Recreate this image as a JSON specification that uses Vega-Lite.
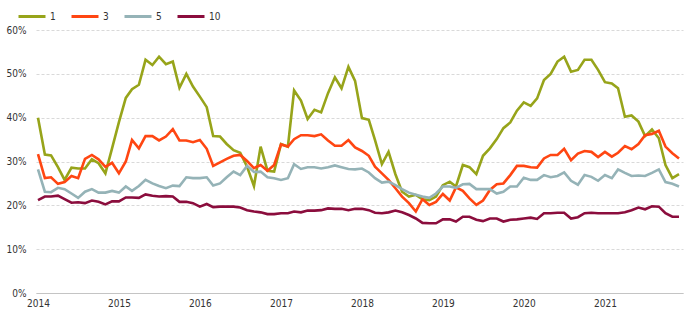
{
"$schema": "https://vega.github.io/schema/vega-lite/v6.json",
"width": 647, "height": 263,
"autosize": {"type": "none"},
"padding": {"left": 36, "top": 30, "right": 7, "bottom": 28},
"background": "white",
"config": {"view": {"stroke": null}, "font": "Liberation Sans Narrow, Arial Narrow, DejaVu Sans Condensed, sans-serif"},
"data": {"values": [
{"d":"2014-01","s":"1","v":40},{"d":"2014-02","s":"1","v":31.6},{"d":"2014-03","s":"1","v":31.4},{"d":"2014-04","s":"1","v":28.7},{"d":"2014-05","s":"1","v":25.8},{"d":"2014-06","s":"1","v":28.6},{"d":"2014-07","s":"1","v":28.4},{"d":"2014-08","s":"1","v":28.4},{"d":"2014-09","s":"1","v":30.5},{"d":"2014-10","s":"1","v":29.6},{"d":"2014-11","s":"1","v":27.3},{"d":"2014-12","s":"1","v":33},
{"d":"2015-01","s":"1","v":39},{"d":"2015-02","s":"1","v":44.5},{"d":"2015-03","s":"1","v":46.5},{"d":"2015-04","s":"1","v":47.5},{"d":"2015-05","s":"1","v":53.2},{"d":"2015-06","s":"1","v":52},{"d":"2015-07","s":"1","v":53.9},{"d":"2015-08","s":"1","v":52.2},{"d":"2015-09","s":"1","v":52.8},{"d":"2015-10","s":"1","v":46.8},{"d":"2015-11","s":"1","v":50},{"d":"2015-12","s":"1","v":47.1},
{"d":"2016-01","s":"1","v":44.8},{"d":"2016-02","s":"1","v":42.4},{"d":"2016-03","s":"1","v":35.8},{"d":"2016-04","s":"1","v":35.7},{"d":"2016-05","s":"1","v":34},{"d":"2016-06","s":"1","v":32.6},{"d":"2016-07","s":"1","v":32},{"d":"2016-08","s":"1","v":28.8},{"d":"2016-09","s":"1","v":24.4},{"d":"2016-10","s":"1","v":33.4},{"d":"2016-11","s":"1","v":27.9},{"d":"2016-12","s":"1","v":27.7},
{"d":"2017-01","s":"1","v":34},{"d":"2017-02","s":"1","v":33.4},{"d":"2017-03","s":"1","v":46.2},{"d":"2017-04","s":"1","v":43.9},{"d":"2017-05","s":"1","v":39.7},{"d":"2017-06","s":"1","v":41.8},{"d":"2017-07","s":"1","v":41.2},{"d":"2017-08","s":"1","v":45.6},{"d":"2017-09","s":"1","v":49.2},{"d":"2017-10","s":"1","v":46.7},{"d":"2017-11","s":"1","v":51.6},{"d":"2017-12","s":"1","v":48.4},
{"d":"2018-01","s":"1","v":39.9},{"d":"2018-02","s":"1","v":39.5},{"d":"2018-03","s":"1","v":34.9},{"d":"2018-04","s":"1","v":29.4},{"d":"2018-05","s":"1","v":32.2},{"d":"2018-06","s":"1","v":27.1},{"d":"2018-07","s":"1","v":23.1},{"d":"2018-08","s":"1","v":22},{"d":"2018-09","s":"1","v":22.4},{"d":"2018-10","s":"1","v":21.4},{"d":"2018-11","s":"1","v":21.2},{"d":"2018-12","s":"1","v":22},
{"d":"2019-01","s":"1","v":24.6},{"d":"2019-02","s":"1","v":25.4},{"d":"2019-03","s":"1","v":24.3},{"d":"2019-04","s":"1","v":29.2},{"d":"2019-05","s":"1","v":28.7},{"d":"2019-06","s":"1","v":27.1},{"d":"2019-07","s":"1","v":31.3},{"d":"2019-08","s":"1","v":33},{"d":"2019-09","s":"1","v":35.1},{"d":"2019-10","s":"1","v":37.6},{"d":"2019-11","s":"1","v":38.9},{"d":"2019-12","s":"1","v":41.6},
{"d":"2020-01","s":"1","v":43.5},{"d":"2020-02","s":"1","v":42.7},{"d":"2020-03","s":"1","v":44.4},{"d":"2020-04","s":"1","v":48.6},{"d":"2020-05","s":"1","v":50},{"d":"2020-06","s":"1","v":52.8},{"d":"2020-07","s":"1","v":53.9},{"d":"2020-08","s":"1","v":50.5},{"d":"2020-09","s":"1","v":50.9},{"d":"2020-10","s":"1","v":53.2},{"d":"2020-11","s":"1","v":53.2},{"d":"2020-12","s":"1","v":50.9},
{"d":"2021-01","s":"1","v":48.1},{"d":"2021-02","s":"1","v":47.8},{"d":"2021-03","s":"1","v":46.7},{"d":"2021-04","s":"1","v":40.2},{"d":"2021-05","s":"1","v":40.5},{"d":"2021-06","s":"1","v":39.1},{"d":"2021-07","s":"1","v":35.8},{"d":"2021-08","s":"1","v":37.3},{"d":"2021-09","s":"1","v":35.3},{"d":"2021-10","s":"1","v":29.2},{"d":"2021-11","s":"1","v":26.2},{"d":"2021-12","s":"1","v":27.1},
{"d":"2014-01","s":"3","v":31.7},{"d":"2014-02","s":"3","v":26.2},{"d":"2014-03","s":"3","v":26.4},{"d":"2014-04","s":"3","v":24.9},{"d":"2014-05","s":"3","v":25.3},{"d":"2014-06","s":"3","v":26.7},{"d":"2014-07","s":"3","v":26.2},{"d":"2014-08","s":"3","v":30.6},{"d":"2014-09","s":"3","v":31.5},{"d":"2014-10","s":"3","v":30.5},{"d":"2014-11","s":"3","v":28.8},{"d":"2014-12","s":"3","v":29.7},
{"d":"2015-01","s":"3","v":27.3},{"d":"2015-02","s":"3","v":30},{"d":"2015-03","s":"3","v":34.9},{"d":"2015-04","s":"3","v":33},{"d":"2015-05","s":"3","v":35.8},{"d":"2015-06","s":"3","v":35.8},{"d":"2015-07","s":"3","v":34.8},{"d":"2015-08","s":"3","v":35.7},{"d":"2015-09","s":"3","v":37.4},{"d":"2015-10","s":"3","v":34.8},{"d":"2015-11","s":"3","v":34.8},{"d":"2015-12","s":"3","v":34.4},
{"d":"2016-01","s":"3","v":34.9},{"d":"2016-02","s":"3","v":32.9},{"d":"2016-03","s":"3","v":29},{"d":"2016-04","s":"3","v":29.8},{"d":"2016-05","s":"3","v":30.6},{"d":"2016-06","s":"3","v":31.3},{"d":"2016-07","s":"3","v":31.5},{"d":"2016-08","s":"3","v":30.1},{"d":"2016-09","s":"3","v":28.5},{"d":"2016-10","s":"3","v":29.2},{"d":"2016-11","s":"3","v":27.9},{"d":"2016-12","s":"3","v":29.2},
{"d":"2017-01","s":"3","v":33.9},{"d":"2017-02","s":"3","v":33.4},{"d":"2017-03","s":"3","v":35.1},{"d":"2017-04","s":"3","v":36},{"d":"2017-05","s":"3","v":36},{"d":"2017-06","s":"3","v":35.8},{"d":"2017-07","s":"3","v":36.2},{"d":"2017-08","s":"3","v":34.8},{"d":"2017-09","s":"3","v":33.6},{"d":"2017-10","s":"3","v":33.6},{"d":"2017-11","s":"3","v":34.9},{"d":"2017-12","s":"3","v":33.2},
{"d":"2018-01","s":"3","v":32.4},{"d":"2018-02","s":"3","v":31.3},{"d":"2018-03","s":"3","v":28.8},{"d":"2018-04","s":"3","v":27.3},{"d":"2018-05","s":"3","v":25.8},{"d":"2018-06","s":"3","v":23.9},{"d":"2018-07","s":"3","v":22},{"d":"2018-08","s":"3","v":20.5},{"d":"2018-09","s":"3","v":18.6},{"d":"2018-10","s":"3","v":21.4},{"d":"2018-11","s":"3","v":20.1},{"d":"2018-12","s":"3","v":20.8},
{"d":"2019-01","s":"3","v":22.6},{"d":"2019-02","s":"3","v":21.1},{"d":"2019-03","s":"3","v":24.1},{"d":"2019-04","s":"3","v":23.3},{"d":"2019-05","s":"3","v":21.6},{"d":"2019-06","s":"3","v":20.1},{"d":"2019-07","s":"3","v":21.1},{"d":"2019-08","s":"3","v":23.5},{"d":"2019-09","s":"3","v":24.8},{"d":"2019-10","s":"3","v":25},{"d":"2019-11","s":"3","v":26.9},{"d":"2019-12","s":"3","v":29},
{"d":"2020-01","s":"3","v":29},{"d":"2020-02","s":"3","v":28.7},{"d":"2020-03","s":"3","v":28.6},{"d":"2020-04","s":"3","v":30.7},{"d":"2020-05","s":"3","v":31.5},{"d":"2020-06","s":"3","v":31.5},{"d":"2020-07","s":"3","v":32.9},{"d":"2020-08","s":"3","v":30.3},{"d":"2020-09","s":"3","v":31.8},{"d":"2020-10","s":"3","v":32.4},{"d":"2020-11","s":"3","v":32.2},{"d":"2020-12","s":"3","v":31},
{"d":"2021-01","s":"3","v":32.2},{"d":"2021-02","s":"3","v":31.1},{"d":"2021-03","s":"3","v":32},{"d":"2021-04","s":"3","v":33.5},{"d":"2021-05","s":"3","v":32.8},{"d":"2021-06","s":"3","v":34},{"d":"2021-07","s":"3","v":36},{"d":"2021-08","s":"3","v":36.3},{"d":"2021-09","s":"3","v":37},{"d":"2021-10","s":"3","v":33.4},{"d":"2021-11","s":"3","v":31.9},{"d":"2021-12","s":"3","v":30.7},
{"d":"2014-01","s":"5","v":28.2},{"d":"2014-02","s":"5","v":23.1},{"d":"2014-03","s":"5","v":23},{"d":"2014-04","s":"5","v":24},{"d":"2014-05","s":"5","v":23.7},{"d":"2014-06","s":"5","v":22.7},{"d":"2014-07","s":"5","v":21.7},{"d":"2014-08","s":"5","v":23.1},{"d":"2014-09","s":"5","v":23.7},{"d":"2014-10","s":"5","v":22.9},{"d":"2014-11","s":"5","v":22.9},{"d":"2014-12","s":"5","v":23.3},
{"d":"2015-01","s":"5","v":22.9},{"d":"2015-02","s":"5","v":24.3},{"d":"2015-03","s":"5","v":23.3},{"d":"2015-04","s":"5","v":24.4},{"d":"2015-05","s":"5","v":25.8},{"d":"2015-06","s":"5","v":25},{"d":"2015-07","s":"5","v":24.4},{"d":"2015-08","s":"5","v":23.9},{"d":"2015-09","s":"5","v":24.5},{"d":"2015-10","s":"5","v":24.4},{"d":"2015-11","s":"5","v":26.4},{"d":"2015-12","s":"5","v":26.2},
{"d":"2016-01","s":"5","v":26.2},{"d":"2016-02","s":"5","v":26.4},{"d":"2016-03","s":"5","v":24.5},{"d":"2016-04","s":"5","v":25},{"d":"2016-05","s":"5","v":26.4},{"d":"2016-06","s":"5","v":27.7},{"d":"2016-07","s":"5","v":26.9},{"d":"2016-08","s":"5","v":29},{"d":"2016-09","s":"5","v":27.6},{"d":"2016-10","s":"5","v":27.7},{"d":"2016-11","s":"5","v":26.4},{"d":"2016-12","s":"5","v":26.2},
{"d":"2017-01","s":"5","v":25.8},{"d":"2017-02","s":"5","v":26.2},{"d":"2017-03","s":"5","v":29.4},{"d":"2017-04","s":"5","v":28.3},{"d":"2017-05","s":"5","v":28.7},{"d":"2017-06","s":"5","v":28.7},{"d":"2017-07","s":"5","v":28.4},{"d":"2017-08","s":"5","v":28.7},{"d":"2017-09","s":"5","v":29.1},{"d":"2017-10","s":"5","v":28.7},{"d":"2017-11","s":"5","v":28.3},{"d":"2017-12","s":"5","v":28.2},
{"d":"2018-01","s":"5","v":28.4},{"d":"2018-02","s":"5","v":27.5},{"d":"2018-03","s":"5","v":26.2},{"d":"2018-04","s":"5","v":25.2},{"d":"2018-05","s":"5","v":25.4},{"d":"2018-06","s":"5","v":24.6},{"d":"2018-07","s":"5","v":23.7},{"d":"2018-08","s":"5","v":22.9},{"d":"2018-09","s":"5","v":22.4},{"d":"2018-10","s":"5","v":22},{"d":"2018-11","s":"5","v":21.7},{"d":"2018-12","s":"5","v":22.7},
{"d":"2019-01","s":"5","v":24.3},{"d":"2019-02","s":"5","v":24.3},{"d":"2019-03","s":"5","v":24},{"d":"2019-04","s":"5","v":24.8},{"d":"2019-05","s":"5","v":24.9},{"d":"2019-06","s":"5","v":23.7},{"d":"2019-07","s":"5","v":23.7},{"d":"2019-08","s":"5","v":23.7},{"d":"2019-09","s":"5","v":22.7},{"d":"2019-10","s":"5","v":23.1},{"d":"2019-11","s":"5","v":24.3},{"d":"2019-12","s":"5","v":24.3},
{"d":"2020-01","s":"5","v":26.3},{"d":"2020-02","s":"5","v":25.8},{"d":"2020-03","s":"5","v":25.8},{"d":"2020-04","s":"5","v":26.9},{"d":"2020-05","s":"5","v":26.4},{"d":"2020-06","s":"5","v":26.7},{"d":"2020-07","s":"5","v":27.5},{"d":"2020-08","s":"5","v":25.6},{"d":"2020-09","s":"5","v":24.7},{"d":"2020-10","s":"5","v":26.9},{"d":"2020-11","s":"5","v":26.5},{"d":"2020-12","s":"5","v":25.6},
{"d":"2021-01","s":"5","v":26.9},{"d":"2021-02","s":"5","v":26.2},{"d":"2021-03","s":"5","v":28.2},{"d":"2021-04","s":"5","v":27.4},{"d":"2021-05","s":"5","v":26.7},{"d":"2021-06","s":"5","v":26.8},{"d":"2021-07","s":"5","v":26.7},{"d":"2021-08","s":"5","v":27.4},{"d":"2021-09","s":"5","v":28.2},{"d":"2021-10","s":"5","v":25.3},{"d":"2021-11","s":"5","v":24.9},{"d":"2021-12","s":"5","v":24.3},
{"d":"2014-01","s":"10","v":21.2},{"d":"2014-02","s":"10","v":22},{"d":"2014-03","s":"10","v":22},{"d":"2014-04","s":"10","v":22.2},{"d":"2014-05","s":"10","v":21.4},{"d":"2014-06","s":"10","v":20.6},{"d":"2014-07","s":"10","v":20.7},{"d":"2014-08","s":"10","v":20.5},{"d":"2014-09","s":"10","v":21.1},{"d":"2014-10","s":"10","v":20.8},{"d":"2014-11","s":"10","v":20.2},{"d":"2014-12","s":"10","v":20.9},
{"d":"2015-01","s":"10","v":20.9},{"d":"2015-02","s":"10","v":21.8},{"d":"2015-03","s":"10","v":21.8},{"d":"2015-04","s":"10","v":21.7},{"d":"2015-05","s":"10","v":22.5},{"d":"2015-06","s":"10","v":22.2},{"d":"2015-07","s":"10","v":22},{"d":"2015-08","s":"10","v":22.1},{"d":"2015-09","s":"10","v":22},{"d":"2015-10","s":"10","v":20.8},{"d":"2015-11","s":"10","v":20.8},{"d":"2015-12","s":"10","v":20.5},
{"d":"2016-01","s":"10","v":19.7},{"d":"2016-02","s":"10","v":20.3},{"d":"2016-03","s":"10","v":19.6},{"d":"2016-04","s":"10","v":19.7},{"d":"2016-05","s":"10","v":19.7},{"d":"2016-06","s":"10","v":19.7},{"d":"2016-07","s":"10","v":19.5},{"d":"2016-08","s":"10","v":18.9},{"d":"2016-09","s":"10","v":18.6},{"d":"2016-10","s":"10","v":18.4},{"d":"2016-11","s":"10","v":18},{"d":"2016-12","s":"10","v":18},
{"d":"2017-01","s":"10","v":18.2},{"d":"2017-02","s":"10","v":18.2},{"d":"2017-03","s":"10","v":18.6},{"d":"2017-04","s":"10","v":18.4},{"d":"2017-05","s":"10","v":18.8},{"d":"2017-06","s":"10","v":18.8},{"d":"2017-07","s":"10","v":18.9},{"d":"2017-08","s":"10","v":19.3},{"d":"2017-09","s":"10","v":19.2},{"d":"2017-10","s":"10","v":19.2},{"d":"2017-11","s":"10","v":18.9},{"d":"2017-12","s":"10","v":19.2},
{"d":"2018-01","s":"10","v":19.2},{"d":"2018-02","s":"10","v":18.9},{"d":"2018-03","s":"10","v":18.3},{"d":"2018-04","s":"10","v":18.2},{"d":"2018-05","s":"10","v":18.4},{"d":"2018-06","s":"10","v":18.8},{"d":"2018-07","s":"10","v":18.4},{"d":"2018-08","s":"10","v":17.8},{"d":"2018-09","s":"10","v":17},{"d":"2018-10","s":"10","v":16},{"d":"2018-11","s":"10","v":15.9},{"d":"2018-12","s":"10","v":15.9},
{"d":"2019-01","s":"10","v":16.8},{"d":"2019-02","s":"10","v":16.8},{"d":"2019-03","s":"10","v":16.3},{"d":"2019-04","s":"10","v":17.4},{"d":"2019-05","s":"10","v":17.4},{"d":"2019-06","s":"10","v":16.7},{"d":"2019-07","s":"10","v":16.4},{"d":"2019-08","s":"10","v":17},{"d":"2019-09","s":"10","v":17},{"d":"2019-10","s":"10","v":16.3},{"d":"2019-11","s":"10","v":16.7},{"d":"2019-12","s":"10","v":16.8},
{"d":"2020-01","s":"10","v":17},{"d":"2020-02","s":"10","v":17.2},{"d":"2020-03","s":"10","v":16.9},{"d":"2020-04","s":"10","v":18.2},{"d":"2020-05","s":"10","v":18.2},{"d":"2020-06","s":"10","v":18.3},{"d":"2020-07","s":"10","v":18.3},{"d":"2020-08","s":"10","v":17},{"d":"2020-09","s":"10","v":17.3},{"d":"2020-10","s":"10","v":18.2},{"d":"2020-11","s":"10","v":18.3},{"d":"2020-12","s":"10","v":18.2},
{"d":"2021-01","s":"10","v":18.2},{"d":"2021-02","s":"10","v":18.2},{"d":"2021-03","s":"10","v":18.2},{"d":"2021-04","s":"10","v":18.4},{"d":"2021-05","s":"10","v":18.9},{"d":"2021-06","s":"10","v":19.5},{"d":"2021-07","s":"10","v":19.1},{"d":"2021-08","s":"10","v":19.8},{"d":"2021-09","s":"10","v":19.7},{"d":"2021-10","s":"10","v":18.2},{"d":"2021-11","s":"10","v":17.4},{"d":"2021-12","s":"10","v":17.4}
]},
"mark": {"type": "line", "strokeWidth": 2.6},
"encoding": {
  "x": {"field": "d", "type": "temporal",
    "scale": {"domain": [{"year": 2013, "month": 12, "date": 23}, {"year": 2021, "month": 12, "date": 19}]},
    "axis": {"title": null, "format": "%Y", "tickCount": {"interval": "year", "step": 1}, "grid": false, "ticks": false,
      "domain": true, "domainColor": "#c4c4c4", "domainWidth": 1, "labelPadding": 5, "labelFontSize": 10, "labelColor": "#333333", "labelFlush": false, "labelOverlap": false}},
  "y": {"field": "v", "type": "quantitative",
    "scale": {"domain": [0, 60]},
    "axis": {"title": null, "values": [0, 10, 20, 30, 40, 50, 60], "labelExpr": "datum.value + '%'", "domain": false, "ticks": false,
      "grid": true, "gridDash": [3, 2], "gridColor": "#d9d9d9", "gridWidth": 1, "labelPadding": 10, "labelFontSize": 10, "labelColor": "#333333"}},
  "color": {"field": "s", "type": "nominal",
    "scale": {"domain": ["1", "3", "5", "10"], "range": ["#97A41A", "#FF4612", "#95B3B7", "#8B0D3D"]},
    "legend": {"orient": "none", "legendX": -19, "legendY": -28.5, "direction": "horizontal", "title": null,
      "symbolType": "stroke", "symbolSize": 729, "symbolStrokeWidth": 3, "labelFontSize": 10, "labelColor": "#333333",
      "labelOffset": 3, "columnPadding": 9, "padding": 0}}
}
}
